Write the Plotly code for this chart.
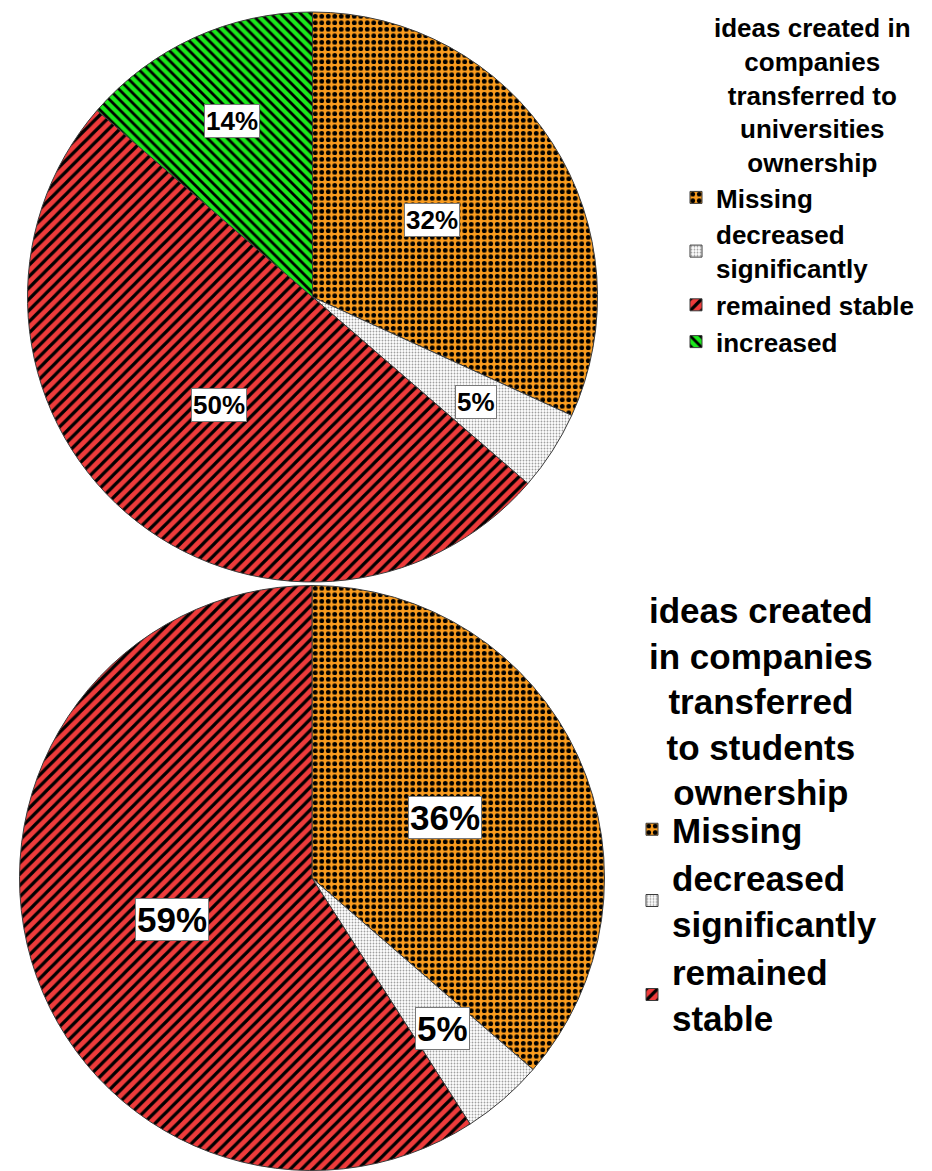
import math
import plotly.graph_objects as go

W, H = 932, 1171

# Counts behind each pie (n = 22 respondents)
labels_univ = ["Missing", "decreased<br>significantly", "remained stable", "increased"]
counts_univ = [7, 1, 11, 3]

labels_stud = ["Missing", "decreased<br>significantly", "remained<br>stable"]
counts_stud = [8, 1, 13]

title_univ = "ideas created in<br>companies<br>transferred to<br>universities<br>ownership"
title_stud = "ideas created<br>in companies<br>transferred<br>to students<br>ownership"

FONT = "Liberation Sans, Arial, sans-serif"

# fill colour + hatch for each response category
STYLE = {
    "Missing": dict(color="#FA9C1E", shape=".", fg="#000000", size=6.5, solidity=0.42),
    "decreased": dict(color="#FFFFFF", shape=".", fg="#A0A0A0", size=3, solidity=0.3),
    "remained": dict(color="#EE3B3B", shape="/", fg="#000000", size=8, solidity=0.4),
    "increased": dict(color="#1CE81C", shape="\\", fg="#000000", size=7, solidity=0.4),
}


def style_for(labels):
    keys = [next(k for k in STYLE if lab.startswith(k)) for lab in labels]
    return dict(
        colors=[STYLE[k]["color"] for k in keys],
        line=dict(color="#3a3a3a", width=1),
        pattern=dict(
            shape=[STYLE[k]["shape"] for k in keys],
            fgcolor=[STYLE[k]["fg"] for k in keys],
            bgcolor=[STYLE[k]["color"] for k in keys],
            size=[STYLE[k]["size"] for k in keys],
            solidity=[STYLE[k]["solidity"] for k in keys],
            fillmode="replace",
        ),
    )


dom_univ = dict(x=[27.5 / W, 597.5 / W], y=[1 - 582 / H, 1 - 12 / H])
dom_stud = dict(x=[19.5 / W, 604.5 / W], y=[1 - 1170.5 / H, 1 - 585.5 / H])

fig = go.Figure()
fig.add_trace(go.Pie(
    labels=labels_univ, values=counts_univ, sort=False, direction="clockwise",
    rotation=0, textinfo="none", hoverinfo="label+percent",
    marker=style_for(labels_univ), domain=dom_univ,
    legend="legend", legendgroup="univ",
))
fig.add_trace(go.Pie(
    labels=labels_stud, values=counts_stud, sort=False, direction="clockwise",
    rotation=0, textinfo="none", hoverinfo="label+percent",
    marker=style_for(labels_stud), domain=dom_stud,
    legend="legend2", legendgroup="stud",
))


def pct_boxes(values, dom, fsize):
    """Boxed percentage labels placed along each slice's bisector."""
    cx = (dom["x"][0] + dom["x"][1]) / 2 * W
    cy = (1 - (dom["y"][0] + dom["y"][1]) / 2) * H
    r = min((dom["x"][1] - dom["x"][0]) * W, (dom["y"][1] - dom["y"][0]) * H) / 2
    total = sum(values)
    acc = 0.0
    out = []
    for v in values:
        share = v / total
        mid = (acc + share / 2) * 2 * math.pi
        acc += share
        d = r * (0.68 if share < 0.2 else 0.5)
        px = cx + d * math.sin(mid)
        py = cy - d * math.cos(mid)
        out.append(dict(
            x=px / W, y=1 - py / H, xref="paper", yref="paper",
            text=f"{int(share * 100 + 0.5)}%", showarrow=False,
            font=dict(family=FONT, size=fsize, color="black", weight="bold"),
            bgcolor="white", bordercolor="#777777", borderwidth=1, borderpad=1,
            xanchor="center", yanchor="middle",
        ))
    return out


def legend_heading(text, x_center, y_top, fsize):
    """Centred multi-line heading above a legend."""
    return dict(
        x=x_center / W, y=1 - y_top / H, xref="paper", yref="paper",
        text=text, showarrow=False, align="center",
        xanchor="center", yanchor="top",
        font=dict(family=FONT, size=fsize, color="black", weight="bold"),
    )


annotations = (
    pct_boxes(counts_univ, dom_univ, 26)
    + pct_boxes(counts_stud, dom_stud, 35)
    + [legend_heading(title_univ, 812, 11, 26),
       legend_heading(title_stud, 761, 589, 35)]
)

fig.update_layout(
    width=W, height=H,
    margin=dict(l=0, r=0, t=0, b=0),
    paper_bgcolor="white", plot_bgcolor="white",
    annotations=annotations,
    legend=dict(
        x=676 / W, y=1 - 174 / H, xanchor="left", yanchor="top",
        itemwidth=30, tracegroupgap=0,
        font=dict(family=FONT, size=26, color="black", weight="bold"),
        bgcolor="rgba(0,0,0,0)",
    ),
    legend2=dict(
        x=632 / W, y=1 - 800 / H, xanchor="left", yanchor="top",
        itemwidth=30, tracegroupgap=0,
        font=dict(family=FONT, size=35, color="black", weight="bold"),
        bgcolor="rgba(0,0,0,0)",
    ),
)

fig.write_html("out.html")
